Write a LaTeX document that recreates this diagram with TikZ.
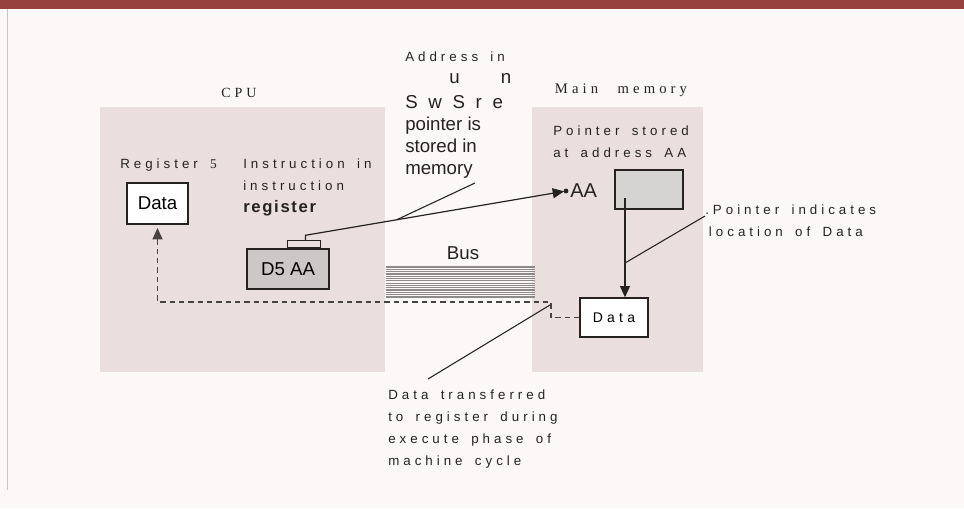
\documentclass[tikz,border=0pt]{standalone}
\usepackage{fontspec}
\setmainfont{Liberation Serif}
\setsansfont{Liberation Sans}
\newfontfamily\spaced[LetterSpace=30,WordSpace=1.6]{Liberation Sans}
\newfontfamily\serifspaced[LetterSpace=28,WordSpace=2.5]{Liberation Serif}
\newfontfamily\regfont[LetterSpace=10]{Liberation Sans}
\usepackage{tikz}
\usetikzlibrary{positioning,arrows.meta,calc}
\usepackage{xcolor}
\definecolor{PaperPink}{RGB}{252,248,248}
\definecolor{BandRed}{RGB}{150,66,62}
\definecolor{PanelGrey}{RGB}{234,222,222}
\definecolor{BoxGrey}{RGB}{204,200,200}
\definecolor{BusGrey}{RGB}{140,138,138}
\definecolor{InkDark}{RGB}{38,34,34}

\begin{document}
\begin{tikzpicture}[x=0.75pt, y=-0.75pt,
    lbl/.style={font=\spaced\fontsize{10}{16.5}\selectfont, text=InkDark, inner sep=0pt},
    big/.style={font=\sffamily\fontsize{14}{16.5}\selectfont, text=InkDark, inner sep=0pt},
    databox/.style={rectangle, draw=InkDark, line width=1pt, fill=white, inner sep=0pt},
    greybox/.style={rectangle, draw=InkDark, line width=1pt, fill=BoxGrey, inner sep=0pt},
    arr/.style={-{Triangle[length=8.5pt, width=7.5pt]}, line width=0.9pt, InkDark},
    dasharr/.style={-{Triangle[length=8.5pt, width=7.5pt]}, line width=0.9pt, InkDark!85,
        dash pattern=on 4pt off 3pt},
    leader/.style={line width=0.8pt, InkDark},
]
\useasboundingbox (0,0) rectangle (964,508);
\fill[PaperPink] (0,0) rectangle (964,508);
\fill[BandRed] (0,0) rectangle (964,9);
\draw[gray!45, line width=0.6pt] (7,9) -- (7,490);

% panels
\fill[PanelGrey] (100,107) rectangle (385,372);
\fill[PanelGrey] (532,107) rectangle (703,372);
\node[font=\serifspaced\fontsize{10.5}{12}\selectfont, text=InkDark] (cpulbl) at (239,93) {CPU};
\node[font=\serifspaced\fontsize{11}{12}\selectfont, text=InkDark] (memlbl) at (621,90) {Main memory};

% CPU side
\node[databox, minimum width=45.75pt, minimum height=30.75pt,
    font=\sffamily\fontsize{14}{16}\selectfont] (regdata) at (157.5,203.5) {Data};
\node[lbl, anchor=west] (reglbl) at (120,165) {Register {\serifspaced 5}};
\node[lbl, anchor=north west, align=left] (instrlbl) at (243,159)
    {Instruction in\\instruction\\{\regfont\bfseries\fontsize{12.5}{14}\selectfont register}};
\node[greybox, minimum width=61.5pt, minimum height=30pt,
    font=\sffamily\fontsize{14}{16}\selectfont] (d5aa) at (288,269) {D5 AA};
\node[databox, fill=PanelGrey, line width=0.8pt, minimum width=24.75pt, minimum height=5.25pt,
    anchor=south west] (tab) at (d5aa.north west -| 287,0) {};

% address of the pointer
\node[lbl, anchor=west] (addrlbl) at (405,57) {Address in};
\node[big, anchor=west] (unlbl) at (449,79) {u\hspace{31pt}n};
\node[big, anchor=north west, align=left] (ptrnote) at (405,95)
    {S\hspace{8pt}w\hspace{8pt}S\hspace{8pt}r\hspace{8pt}e\\pointer is\\stored in\\memory};

% main memory side
\node[lbl, anchor=north west, align=left] (ptrlbl) at (553,126) {Pointer stored\\at address AA};
\coordinate (aa) at (566,191);
\node[big, anchor=west, font=\sffamily\fontsize{15}{16}\selectfont] (aalbl) at (570,191) {AA};
\node[greybox, fill=BoxGrey!80, minimum width=51pt, minimum height=29.25pt] (ptrbox) at (649,189.5) {};
\node[databox, minimum width=51pt, minimum height=29.25pt,
    font=\spaced\fontsize{10.5}{12}\selectfont] (memdata) at (614,317.5) {Data};
\node[lbl, anchor=north west, align=left] (indlbl) at (705,205)
    {.Pointer indicates\\\hphantom{.}location of Data};

% bus
\node[font=\sffamily\fontsize{14}{16}\selectfont, text=InkDark] (buslbl) at (463,253) {Bus};
\foreach \i in {0,...,13}
    \draw[BusGrey, line width=0.9pt] (386,{267+\i*2.3}) -- (535,{267+\i*2.3});

% pointer from instruction to memory
\coordinate (tabtop) at ($(tab.north)+(1.5,-5)$);
\draw[arr, shorten >=1.5pt] (tab.north -| tabtop) -- (tabtop) -- (aa);
\fill[InkDark] (aa) circle (1.8pt);
\coordinate (ptrsrc) at (625,198);
\draw[arr] (ptrsrc) -- (ptrsrc |- memdata.north);

% data back to register
\draw[dasharr, shorten >=2.5pt] (memdata.west) -- (551,317.5) -- (551,302) -| (regdata.south);

% notes
\node[lbl, anchor=north west, align=left] (xferlbl) at (388,390)
    {Data transferred\\to register during\\execute phase of\\machine cycle};
\coordinate (memfoot) at (475,183);
\path (tabtop) -- (aa) coordinate[pos=0.35] (memhit);
\draw[leader] (memfoot) -- (memhit);
\coordinate (indfoot) at (705,216);
\coordinate (indhit) at (625,263);
\draw[leader] (indfoot) -- (indhit);
\coordinate (xferfoot) at (428,379);
\coordinate (xferhit) at (550,305);
\draw[leader] (xferfoot) -- (xferhit);
\end{tikzpicture}
\end{document}
